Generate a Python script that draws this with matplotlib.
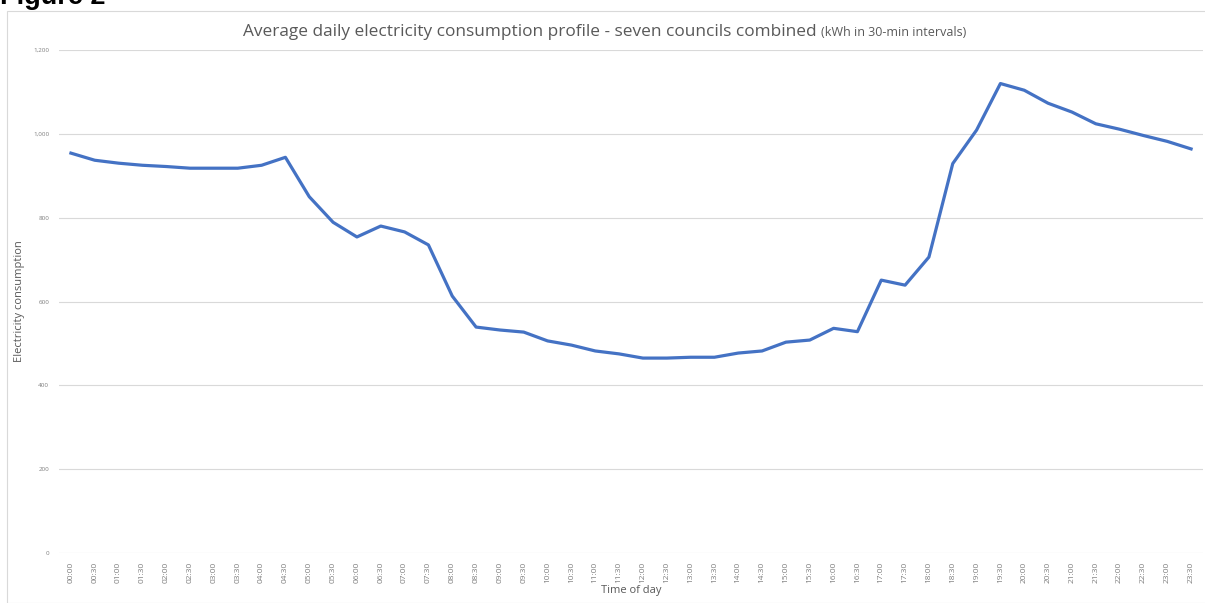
import matplotlib.pyplot as plt
from matplotlib.patches import Rectangle
from matplotlib.ticker import FuncFormatter

plt.rcParams["font.family"] = ["Open Sans", "DejaVu Sans"]

# half-hourly slots, 00:00 .. 23:30
times = [f"{h:02d}:{m:02d}" for h in range(24) for m in (0, 30)]
consumption = [
    954, 937, 930, 925, 922, 918, 918, 918, 925, 944,
    850, 789, 754, 780, 766, 735, 613, 539, 532, 527,
    506, 496, 482, 475, 465, 465, 467, 467, 477, 482,
    503, 508, 536, 528, 651, 639, 706, 929, 1009, 1120,
    1104, 1073, 1052, 1024, 1011, 996, 982, 964,
]
y_ticks = [0, 200, 400, 600, 800, 1000, 1200]

W, H = 1205, 603
fig = plt.figure(figsize=(W / 100, H / 100), dpi=100, facecolor="white")
ax = fig.add_axes([59 / W, 1 - 553 / H, (1203 - 59) / W, (553 - 50) / H])

x = range(len(times))
ax.plot(x, consumption, color="#4472C4", lw=2.3, solid_joinstyle="round", zorder=3)

ax.set_xlim(-0.5, len(times) - 0.5)
ax.set_ylim(0, 1200)
ax.set_yticks(y_ticks)
ax.yaxis.set_major_formatter(FuncFormatter(lambda v, _: f"{int(v):,}"))
ax.set_xticks(list(x))
ax.set_xticklabels(times, rotation=90)
ax.tick_params(axis="both", length=0, colors="#7f7f7f")
ax.tick_params(axis="y", labelsize=4.5, pad=7)
ax.tick_params(axis="x", labelsize=6, pad=6)
ax.grid(axis="y", color="#d9d9d9", lw=0.8)
ax.set_axisbelow(True)
for s in ax.spines.values():
    s.set_visible(False)

ax.set_xlabel("Time of day", fontsize=8, color="#595959", labelpad=2)
ax.set_ylabel("Electricity consumption", fontsize=8, color="#595959")
ax.yaxis.set_label_coords((25 - 59) / (1203 - 59), 0.5)

# chart title, units note appended on the same baseline
title_y = 1 - 36 / H
t = fig.text(243 / W, title_y, "Average daily electricity consumption profile - seven councils combined",
             fontsize=12.4, color="#595959", ha="left", va="baseline")
fig.canvas.draw()
bb = t.get_window_extent()
fig.text((bb.x1 + 4) / W, title_y, "(kWh in 30-min intervals)", fontsize=9,
         color="#595959", ha="left", va="baseline")

# chart area frame
fig.add_artist(Rectangle((7 / W, 0), 1, 1 - 11 / H, transform=fig.transFigure,
                         fill=False, edgecolor="#d9d9d9", lw=0.8))

fig.text(0, 1 - 4 / H, "Figure 2", fontsize=19.5, fontweight="bold",
         family=["Liberation Sans", "DejaVu Sans"], ha="left", va="baseline")

fig.savefig("out.png", dpi=100, facecolor="white")
